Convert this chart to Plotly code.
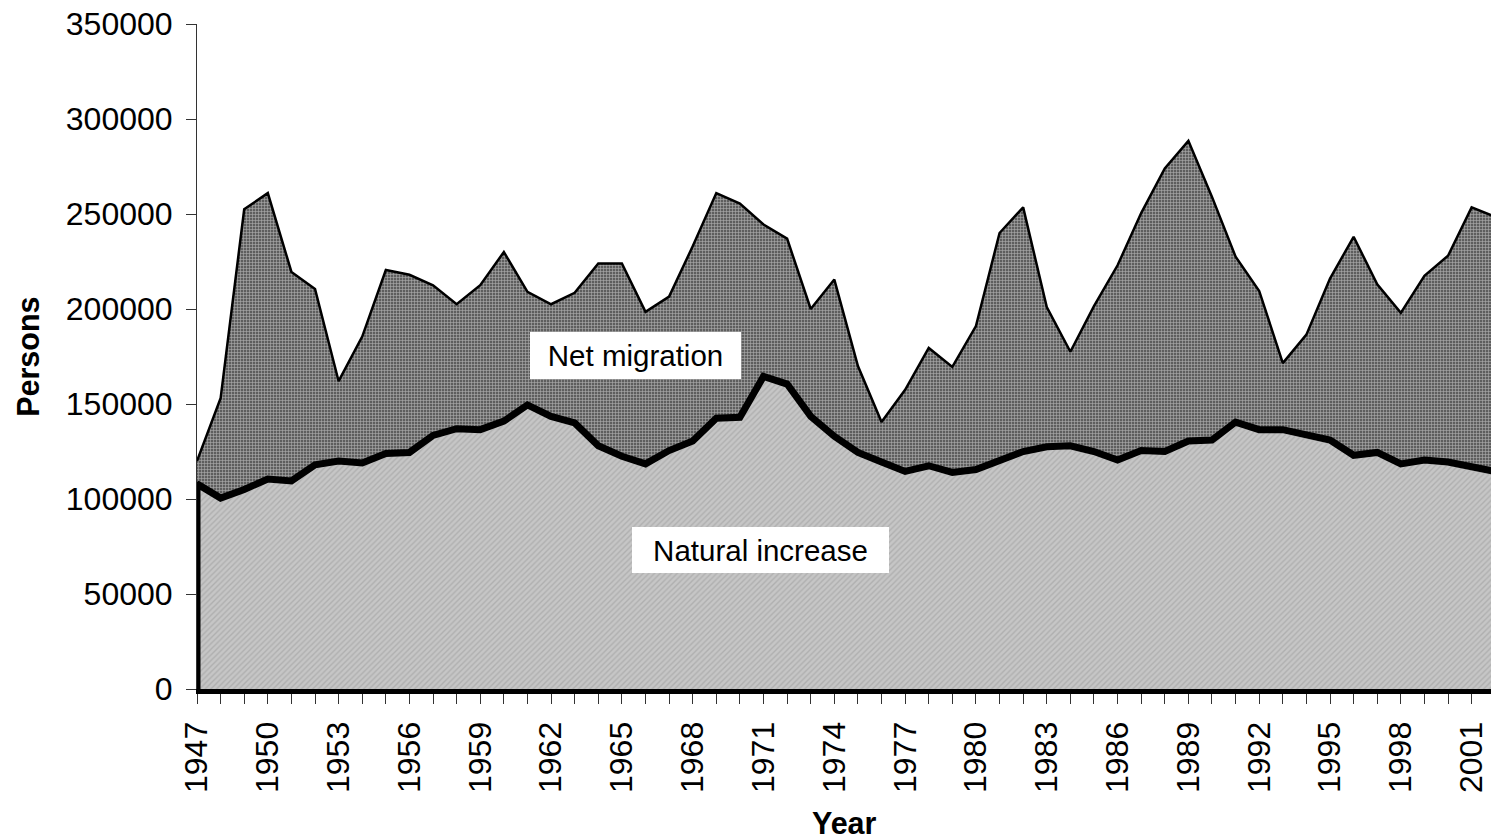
"""Population growth by component: natural increase and net migration, 1947-2002."""

import plotly.graph_objects as go

years = list(range(1947, 2003))

# persons per year
natural_increase = [
    108000, 100500, 105000, 110500, 109500, 118000, 120000, 119000, 124000, 124500,
    133500, 137000, 136500, 141000, 149500, 143500, 140000, 128000, 122500, 118500,
    125500, 130500, 142500, 143000, 164500, 160500, 143500, 133000, 124500, 119500,
    114500, 117500, 114000, 115500, 120500, 125000, 127500, 128000, 125000, 120500,
    125500, 125000, 130500, 131000, 140500, 136500, 136500, 134000, 131000, 123000,
    124500, 118500, 120500, 119500, 117000, 114500,
]
net_migration = [
    12000, 52500, 147500, 150500, 110000, 92500, 42000, 66500, 96500, 93500,
    79000, 65500, 76000, 89000, 59500, 59000, 68500, 96000, 101500, 80000,
    81000, 102500, 118500, 112500, 80000, 76500, 56500, 82500, 45500, 21000,
    43000, 62000, 55500, 75500, 119500, 128500, 73500, 49500, 76500, 102500,
    125000, 149000, 158000, 128000, 87000, 73000, 35000, 52500, 85000, 115000,
    88500, 79500, 97000, 108500, 136500, 134000,
]

y_ticks = [0, 50000, 100000, 150000, 200000, 250000, 300000, 350000]

FONT = "Liberation Sans, Arial, sans-serif"

total = [n + m for n, m in zip(natural_increase, net_migration)]

fig = go.Figure()

# net migration band: polygon along the totals and back along natural increase
fig.add_trace(go.Scatter(
    x=years + years[::-1],
    y=total + natural_increase[::-1],
    fill="toself",
    mode="lines",
    line=dict(color="black", width=2.5),
    fillpattern=dict(shape="+", bgcolor="#5e5e5e", fgcolor="white", size=3, solidity=0.35),
    name="Net migration",
    hoverinfo="skip",
))

# natural increase: filled to zero, thick outline incl. the end edges
fig.add_trace(go.Scatter(
    x=[years[0]] + years + [years[-1]],
    y=[0] + natural_increase + [0],
    fill="tozeroy",
    mode="lines",
    line=dict(color="black", width=7),
    fillpattern=dict(shape="/", bgcolor="#c6c6c6", fgcolor="#989898", size=4, solidity=0.35),
    name="Natural increase",
    hoverinfo="skip",
))

label_box = dict(bgcolor="white", borderwidth=0, borderpad=0, showarrow=False,
                 font=dict(family=FONT, size=29.5, color="black"))
fig.add_annotation(x=1965.56, y=175400, text="Net migration", width=211, height=47, **label_box)
fig.add_annotation(x=1970.89, y=73200, text="Natural increase", width=257, height=46, **label_box)

# axis titles placed by hand
title_font = dict(family=FONT, size=30.5, color="black")
fig.add_annotation(xref="paper", yref="paper", x=-0.1311, y=0.5, text="<b>Persons</b>",
                   textangle=-90, showarrow=False, font=title_font,
                   xanchor="center", yanchor="middle")
fig.add_annotation(xref="paper", yref="paper", x=0.5, y=-0.202, text="<b>Year</b>",
                   showarrow=False, font=title_font, xanchor="center", yanchor="middle")

fig.update_xaxes(
    range=[1947, 2001.82],
    tickmode="linear", tick0=1947, dtick=3,
    tickangle=-90,
    ticks="outside", ticklen=10, tickwidth=1, tickcolor="#333333",
    minor=dict(dtick=1, tick0=1947, ticks="outside", ticklen=10, tickwidth=1, tickcolor="#333333"),
    showline=True, linecolor="black", linewidth=5,
    showgrid=False, zeroline=False,
    ticklabelstandoff=5,
    tickfont=dict(family=FONT, size=32, color="black"),
)
fig.update_yaxes(
    range=[0, 350000],
    tickvals=y_ticks, tickformat="d",
    ticks="outside", ticklen=10, tickwidth=1, tickcolor="#333333",
    showline=True, linecolor="#333333", linewidth=1,
    showgrid=False, zeroline=False,
    ticklabelstandoff=7,
    tickfont=dict(family=FONT, size=32, color="black"),
)

fig.update_layout(
    width=1491, height=839,
    margin=dict(l=197, r=0, t=24, b=150, autoexpand=False),
    plot_bgcolor="white", paper_bgcolor="white",
    showlegend=False,
    font=dict(family=FONT),
)

# drop the browser's default 8px body margin so the figure fills the window
fig.write_html("out.html", config={"displayModeBar": False},
               post_script="document.body.style.margin='0';")
